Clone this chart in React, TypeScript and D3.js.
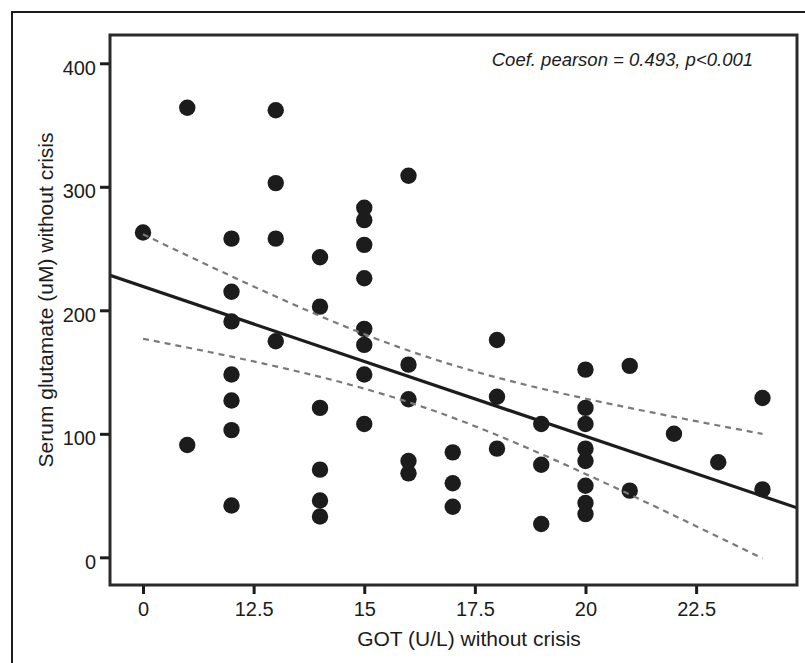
import React, { useEffect, useRef } from "react";
import * as d3 from "d3";

// GOT (U/L) without crisis, one entry per patient
const gotValues = [
  10,
  11, 11,
  12, 12, 12, 12, 12, 12, 12,
  13, 13, 13, 13,
  14, 14, 14, 14, 14, 14,
  15, 15, 15, 15, 15, 15, 15, 15,
  16, 16, 16, 16, 16,
  17, 17, 17,
  18, 18, 18,
  19, 19, 19,
  20, 20, 20, 20, 20, 20, 20, 20,
  21, 21,
  22,
  23,
  24, 24,
];

// Serum glutamate (uM) without crisis, same order as gotValues
const glutamateValues = [
  263,
  364, 91,
  258, 215, 191, 148, 127, 103, 42,
  362, 303, 258, 175,
  243, 203, 121, 71, 46, 33,
  283, 273, 253, 226, 185, 172, 148, 108,
  309, 156, 128, 78, 68,
  85, 60, 41,
  176, 130, 88,
  108, 75, 27,
  152, 121, 108, 88, 78, 58, 44, 35,
  155, 54,
  100,
  77,
  129, 55,
];

const xTickValues = [10, 12.5, 15, 17.5, 20, 22.5];
const xTickLabels = ["0", "12.5", "15", "17.5", "20", "22.5"];
const yTickValues = [0, 100, 200, 300, 400];

const xDomain = [9.254, 24.78];
const yDomain = [-22.4, 422.9];

const statText = "Coef. pearson = 0.493, p<0.001";
const xTitle = "GOT (U/L) without crisis";
const yTitle = "Serum glutamate (uM) without crisis";

const width = 805;
const height = 663;
const plot = { left: 110, top: 35, right: 797, bottom: 585 };
const font = "'Liberation Sans', Arial, Helvetica, sans-serif";
const ink = "#1c1c1c";

export default function App() {
  const svgRef = useRef<SVGSVGElement>(null);

  useEffect(() => {
    document.body.style.margin = "0";
    const svg = d3.select(svgRef.current);
    svg.selectAll("*").remove();

    const x = d3.scaleLinear().domain(xDomain).range([plot.left, plot.right]);
    const y = d3.scaleLinear().domain(yDomain).range([plot.bottom, plot.top]);

    const data = gotValues.map((g, i) => ({ x: g, y: glutamateValues[i] }));

    // least squares fit + 95% CI of the mean
    const n = data.length;
    const mx = d3.mean(data, (d) => d.x) || 0;
    const my = d3.mean(data, (d) => d.y) || 0;
    const sxx = d3.sum(data, (d) => (d.x - mx) ** 2);
    const sxy = d3.sum(data, (d) => (d.x - mx) * (d.y - my));
    const slope = sxy / sxx;
    const icpt = my - slope * mx;
    const fit = (v: number) => icpt + slope * v;
    const sse = d3.sum(data, (d) => (d.y - fit(d.x)) ** 2);
    const s = Math.sqrt(sse / (n - 2));
    const t = 2.005;
    const band = (v: number) => t * s * Math.sqrt(1 / n + (v - mx) ** 2 / sxx);

    // outer figure frame
    svg
      .append("rect")
      .attr("x", 12)
      .attr("y", 12)
      .attr("width", width)
      .attr("height", height)
      .attr("fill", "none")
      .attr("stroke", ink)
      .attr("stroke-width", 2);

    const clipId = "plot-clip";
    svg
      .append("clipPath")
      .attr("id", clipId)
      .append("rect")
      .attr("x", plot.left)
      .attr("y", plot.top)
      .attr("width", plot.right - plot.left)
      .attr("height", plot.bottom - plot.top);

    const g = svg.append("g").attr("clip-path", `url(#${clipId})`);

    // points
    g.selectAll("circle")
      .data(data)
      .enter()
      .append("circle")
      .attr("cx", (d) => x(d.x))
      .attr("cy", (d) => y(d.y))
      .attr("r", 8.2)
      .attr("fill", ink);

    // CI lines
    const [xMin, xMax] = d3.extent(gotValues) as [number, number];
    const steps = d3.range(xMin, xMax + 0.001, 0.25);
    const line = d3
      .line<number>()
      .x((v) => x(v))
      .curve(d3.curveMonotoneX);

    g.append("path")
      .attr("d", line.y((v) => y(fit(v) + band(v)))(steps))
      .attr("fill", "none")
      .attr("stroke", "#7a7a7a")
      .attr("stroke-width", 2.2)
      .attr("stroke-dasharray", "6,5");

    g.append("path")
      .attr("d", line.y((v) => y(fit(v) - band(v)))(steps))
      .attr("fill", "none")
      .attr("stroke", "#7a7a7a")
      .attr("stroke-width", 2.2)
      .attr("stroke-dasharray", "6,5");

    // regression line
    g.append("line")
      .attr("x1", x(xDomain[0]))
      .attr("y1", y(fit(xDomain[0])))
      .attr("x2", x(xDomain[1]))
      .attr("y2", y(fit(xDomain[1])))
      .attr("stroke", ink)
      .attr("stroke-width", 3.2);

    // plot frame
    svg
      .append("rect")
      .attr("x", plot.left)
      .attr("y", plot.top)
      .attr("width", plot.right - plot.left)
      .attr("height", plot.bottom - plot.top)
      .attr("fill", "none")
      .attr("stroke", "#2a2a2a")
      .attr("stroke-width", 3);

    // X Axis
    const xAxis = svg
      .append("g")
      .attr("transform", `translate(0,${plot.bottom + 1})`)
      .call(
        d3
          .axisBottom(x)
          .tickValues(xTickValues)
          .tickFormat((d, i) => xTickLabels[i])
          .tickSize(8)
          .tickPadding(8)
      );
    xAxis.select(".domain").remove();
    xAxis.selectAll("line").attr("stroke", ink).attr("stroke-width", 3);
    xAxis
      .selectAll("text")
      .attr("fill", ink)
      .style("font-family", font)
      .style("font-size", "20px");

    // Y Axis
    const yAxis = svg
      .append("g")
      .attr("transform", `translate(${plot.left - 1},0)`)
      .call(d3.axisLeft(y).tickValues(yTickValues).tickSize(9).tickPadding(4));
    yAxis.select(".domain").remove();
    yAxis.selectAll("line").attr("stroke", ink).attr("stroke-width", 3);
    yAxis
      .selectAll("text")
      .attr("fill", ink)
      .attr("dy", "0.55em")
      .style("font-family", font)
      .style("font-size", "20px");

    // titles
    svg
      .append("text")
      .attr("x", 469)
      .attr("y", 646)
      .attr("text-anchor", "middle")
      .attr("fill", ink)
      .style("font-family", font)
      .style("font-size", "21px")
      .text(xTitle);

    svg
      .append("text")
      .attr("transform", "translate(53,300) rotate(-90)")
      .attr("text-anchor", "middle")
      .attr("fill", ink)
      .style("font-family", font)
      .style("font-size", "21px")
      .text(yTitle);

    svg
      .append("text")
      .attr("x", 753)
      .attr("y", 66)
      .attr("text-anchor", "end")
      .attr("fill", ink)
      .style("font-family", font)
      .style("font-style", "italic")
      .style("font-size", "18.5px")
      .text(statText);
  }, []);

  return (
    <svg
      ref={svgRef}
      width={width}
      height={height}
      style={{ display: "block", background: "#fff" }}
    />
  );
}
